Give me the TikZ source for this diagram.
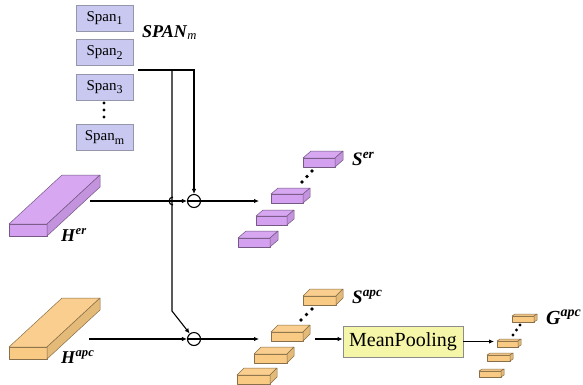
\documentclass[tikz,border=0pt]{standalone}
\usepackage{fontspec}
\setmainfont{Liberation Serif}
\usetikzlibrary{arrows.meta}

\definecolor{spanfill}{RGB}{200,200,240}
\definecolor{spanedge}{RGB}{150,150,170}
\definecolor{erfill}{RGB}{212,160,240}
\definecolor{apcfill}{RGB}{248,202,132}
\definecolor{poolfill}{RGB}{246,246,168}

% 3-D block: front face top-left (x,y), width, height, depth dx, depth dy, colour
\newcommand{\cuboid}[7]{%
  \filldraw[face,draw=#7!55!black,fill=#7] (#1,#2) rectangle ++(#3,#4);
  \filldraw[face,draw=#7!55!black,fill=#7!92!white] (#1,#2) -- ++(#5,-#6) -- ++(#3,0) -- ++(-#5,#6) -- cycle;
  \filldraw[face,draw=#7!55!black,fill=#7!92!black] (#1+#3,#2) -- ++(#5,-#6) -- ++(0,#4) -- ++(-#5,#6) -- cycle;
}
% lowered index for the span names
\newcommand{\spanidx}[1]{\raisebox{-0.22em}{\fontsize{12}{13}\selectfont #1}}

\begin{document}
\begin{tikzpicture}[x=1pt,y=-1pt,
  face/.style={line width=0.5pt,line join=round},
  spanbox/.style={draw=spanedge,fill=spanfill,line width=0.8pt,minimum width=57pt,minimum height=26pt,inner sep=0pt,font=\fontsize{15}{17}\selectfont},
  poolbox/.style={draw=black!45,fill=poolfill,line width=0.8pt,minimum width=120pt,minimum height=31pt,inner sep=0pt,font=\fontsize{20}{24}\selectfont},
  opnode/.style={draw,circle,line width=1.1pt,minimum size=13pt,inner sep=0pt,
    path picture={\draw[line width=1.1pt] (path picture bounding box.west) -- (path picture bounding box.east);}},
  wire/.style={line width=1.1pt},
  conn/.style={line width=1.1pt,-{Latex[length=5pt,width=4.5pt]}},
  lbl/.style={anchor=base west,inner sep=0pt},
  dot/.style={fill=black}
]
\path[fill=white,use as bounding box] (0,0) rectangle (583,384);

% span list
\node[spanbox] (span1) at (104.5,18)    {Span\spanidx{1}};
\node[spanbox] (span2) at (104.5,52.5)  {Span\spanidx{2}};
\node[spanbox] (span3) at (104.5,87)    {Span\spanidx{3}};
\node[spanbox] (spanm) at (104.5,137.5) {Span\spanidx{m}};
\foreach \yy in {103,110,117} \fill[dot] (104,\yy) circle[radius=1.7pt];
\node[lbl,font=\fontsize{18}{21}\selectfont] (spanlbl) at (142,37) {\textbf{\textit{SPAN}}\textsubscript{\textit{m}}};

% input slabs
\cuboid{9}{224}{38}{12}{53}{49}{erfill}
\cuboid{9}{347}{38}{12}{53}{49}{apcfill}
\node[lbl,font=\fontsize{18}{21}\selectfont] (herlbl) at (61,241) {\textbf{\textit{H}}\textsuperscript{\textbf{\textit{er}}}};
\node[lbl,font=\fontsize{18}{21}\selectfont] (hapclbl) at (61,363) {\textbf{\textit{H}}\textsuperscript{\textbf{\textit{apc}}}};

% subtraction operators
\node[opnode] (c1) at (194,201) {};
\node[opnode] (c2) at (194,339) {};

% connector end points
\coordinate (spanout) at (138,70);
\coordinate (split) at (172,70);
\coordinate (bend) at (172,311);
\coordinate (herout) at (90,201);
\coordinate (hapcout) at (89,339);
\coordinate (serin) at (259,201);
\coordinate (sapcin) at (259,339);
\coordinate (sapcout) at (315,339);
\coordinate (gin) at (494,341.5);

\draw[conn] (spanout) -| (c1);
\draw[conn] (split) -- (bend) -- (c2);
\draw[conn] (herout) -- (c1);
\draw[wire] (173,197) arc[start angle=90,end angle=270,radius=4pt];
\draw[conn] (c1) -- (serin);
\draw[conn] (hapcout) -- (c2);
\draw[conn] (c2) -- (sapcin);

% span representations S^er
\cuboid{303}{158}{32}{9}{8}{7}{erfill}
\cuboid{271}{194}{32}{9}{7}{6}{erfill}
\cuboid{256}{216}{31}{9}{7}{6}{erfill}
\cuboid{238}{238}{32}{9}{8}{7}{erfill}
\fill[dot] (302,182) circle[radius=1.8pt] (307,176.5) circle[radius=1.8pt] (312,171) circle[radius=1.8pt];
\node[lbl,font=\fontsize{19}{22}\selectfont] (serlbl) at (352,165) {\textbf{\textit{S}}\textsuperscript{\textbf{\textit{er}}}};

% span representations S^apc
\cuboid{303}{296}{33}{9}{7}{7}{apcfill}
\cuboid{271}{332}{32}{9}{7}{7}{apcfill}
\cuboid{254}{354}{33}{9}{7}{7}{apcfill}
\cuboid{237}{375}{33}{9}{7}{7}{apcfill}
\fill[dot] (301,320) circle[radius=1.8pt] (306.5,314.5) circle[radius=1.8pt] (312,309) circle[radius=1.8pt];
\node[lbl,font=\fontsize{19}{22}\selectfont] (sapclbl) at (352,303) {\textbf{\textit{S}}\textsuperscript{\textbf{\textit{apc}}}};

% pooling
\node[poolbox] (pool) at (403,341.5) {MeanPooling};
\draw[conn] (sapcout) -- (sapcout -| pool.west);
\draw[conn] (pool.east) -- (gin);

% pooled vectors G^apc
\cuboid{512}{316}{22}{6}{3}{2}{apcfill}
\cuboid{497}{341}{21}{6}{3}{2}{apcfill}
\cuboid{487}{355}{23}{6}{3}{2}{apcfill}
\cuboid{479}{371}{22}{6}{3}{2}{apcfill}
\fill[dot] (513,335) circle[radius=1.6pt] (516.5,330) circle[radius=1.6pt] (520,325) circle[radius=1.6pt];
\node[lbl,font=\fontsize{20}{23}\selectfont] (gapclbl) at (546,324) {\textbf{\textit{G}}\textsuperscript{\textbf{\textit{apc}}}};
\end{tikzpicture}
\end{document}
